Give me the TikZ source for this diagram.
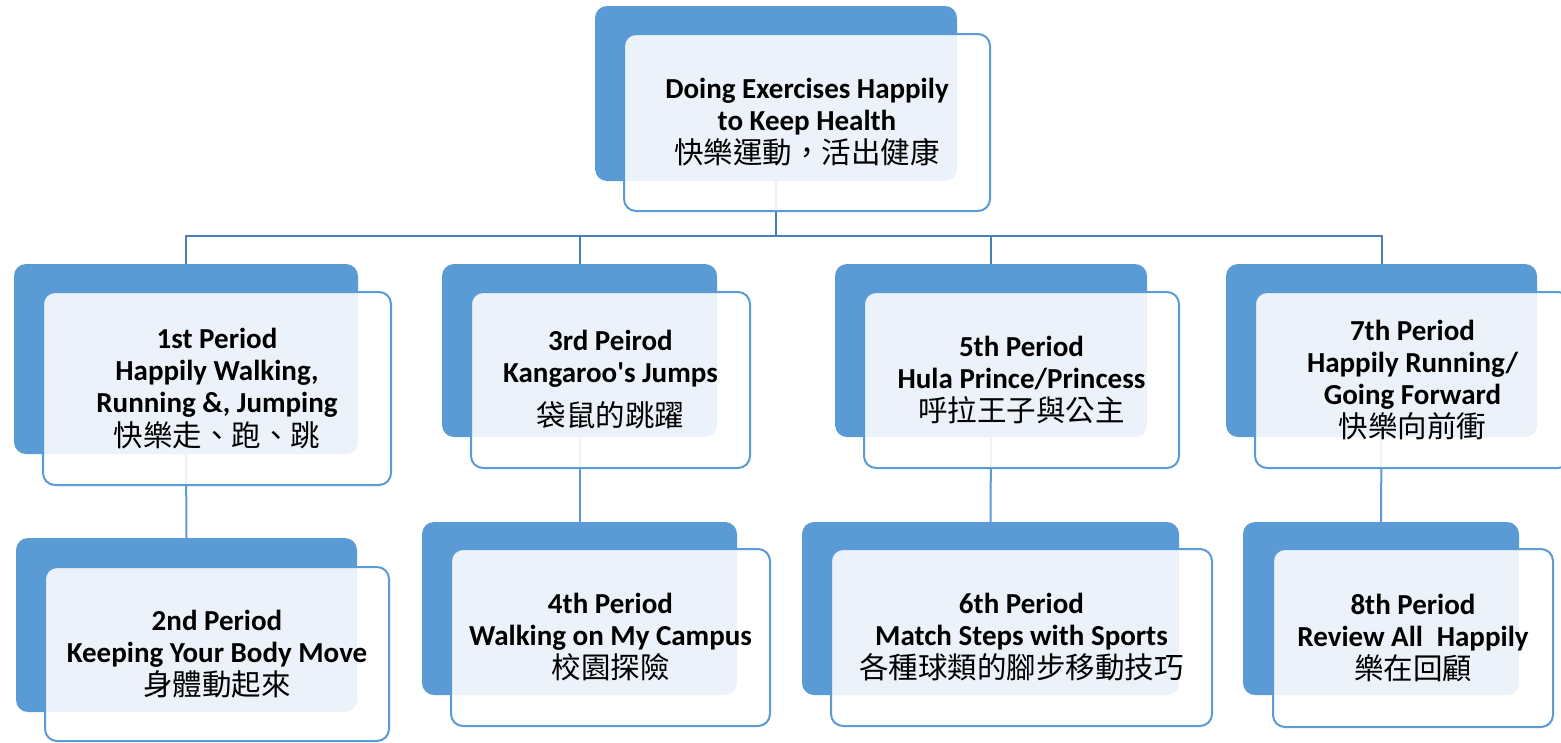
\documentclass[tikz,border=0pt]{standalone}
\usepackage{fontspec}
\setmainfont{Carlito}
\newfontfamily\cjkfont{Noto Sans CJK TC}
\definecolor{backblue}{HTML}{5B9BD5}
\definecolor{edgeblue}{HTML}{5B9BD5}
\definecolor{lineblue}{HTML}{4A7EBB}
\newcommand\cjkline[1]{{\mdseries\cjkfont\fontsize{29.5}{34}\selectfont #1}}
\pgfdeclarelayer{bg}
\pgfsetlayers{bg,main}
\tikzset{
  backbox/.style={rectangle, rounded corners=12pt, fill=backblue, draw=none, inner sep=0pt, outer sep=0pt},
  frontbox/.style={rectangle, rounded corners=12pt, draw=edgeblue, line width=2pt, fill=white, fill opacity=0.88, inner sep=0pt, outer sep=0pt},
  txt/.style={align=center, font=\bfseries\fontsize{29}{32}\selectfont, inner sep=0pt, text=black},
  topconn/.style={draw=lineblue, line width=2pt},
  subconn/.style={draw=edgeblue, line width=2pt},
}
\begin{document}
\begin{tikzpicture}[x=1pt,y=-1pt]
\useasboundingbox (0,0) rectangle (1561,742);
% back boxes
\node[backbox, minimum width=362pt, minimum height=175pt] (b0) at (776,93.5) {};
\node[backbox, minimum width=344pt, minimum height=190pt] (b1) at (186,359) {};
\node[backbox, minimum width=341pt, minimum height=174pt] (b2) at (186.5,625) {};
\node[backbox, minimum width=275pt, minimum height=173pt] (b3) at (579.5,350.5) {};
\node[backbox, minimum width=315pt, minimum height=173pt] (b4) at (579.5,608.5) {};
\node[backbox, minimum width=312pt, minimum height=173pt] (b5) at (991,350.5) {};
\node[backbox, minimum width=377pt, minimum height=173pt] (b6) at (990.5,608.5) {};
\node[backbox, minimum width=311pt, minimum height=173pt] (b7) at (1381.5,350.5) {};
\node[backbox, minimum width=276pt, minimum height=173pt] (b8) at (1381,608.5) {};
% front boxes
\node[frontbox, minimum width=366pt, minimum height=177pt] (f0) at (807,122.5) {};
\node[frontbox, minimum width=348pt, minimum height=193pt] (f1) at (217,388.5) {};
\node[frontbox, minimum width=344pt, minimum height=174pt] (f2) at (217,654) {};
\node[frontbox, minimum width=279pt, minimum height=176pt] (f3) at (610.5,380) {};
\node[frontbox, minimum width=319pt, minimum height=177pt] (f4) at (610.5,637.5) {};
\node[frontbox, minimum width=315pt, minimum height=176pt] (f5) at (1021.5,380) {};
\node[frontbox, minimum width=381pt, minimum height=177pt] (f6) at (1021.5,637.5) {};
\node[frontbox, minimum width=315pt, minimum height=176pt] (f7) at (1412.5,380) {};
\node[frontbox, minimum width=280pt, minimum height=178pt] (f8) at (1413,638) {};
% texts
\node[txt] (t0) at (f0.center) {Doing Exercises Happily\\to Keep Health\\[1pt]\cjkline{快樂運動，活出健康}};
\node[txt] (t1) at (f1.center) {1st Period\\Happily Walking,\\Running \&, Jumping\\[2pt]\cjkline{快樂走、跑、跳}};
\node[txt] (t2) at (f2.center) {2nd Period\\Keeping Your Body Move\\[1pt]\cjkline{身體動起來}};
\node[txt] (t3) at (f3.center) {3rd Peirod\\Kangaroo\textquotesingle s Jumps\\[12pt]\cjkline{袋鼠的跳躍}};
\node[txt] (t4) at (f4.center) {4th Period\\Walking on My Campus\\[1pt]\cjkline{校園探險}};
\node[txt] (t5) at (f5.center) {5th Period\\Hula Prince/Princess\\[1pt]\cjkline{呼拉王子與公主}};
\node[txt] (t6) at (f6.center) {6th Period\\Match Steps with Sports\\[1pt]\cjkline{各種球類的腳步移動技巧}};
\node[txt] (t7) at (f7.center) {7th Period\\Happily Running/\\Going Forward\\[1pt]\cjkline{快樂向前衝}};
\node[txt] (t8) at (f8.center) {8th Period\\Review All\hspace{0.25em} Happily\\[1pt]\cjkline{樂在回顧}};
% connectors
\begin{pgfonlayer}{bg}
\coordinate (bus) at (b0.south |- 0,236);
\draw[topconn] (b0.south) -- (bus);
\draw[topconn] (b1.north) |- (bus) -| (b7.north);
\draw[topconn] (bus) -| (b3.north);
\draw[topconn] (bus) -| (b5.north);
\draw[subconn] (b1.south) -- (b2.north);
\draw[subconn] (b3.south) -- (b4.north);
\draw[subconn] (b5.south) -- (b6.north);
\draw[subconn] (b7.south) -- (b8.north);
\end{pgfonlayer}
\end{tikzpicture}
\end{document}
